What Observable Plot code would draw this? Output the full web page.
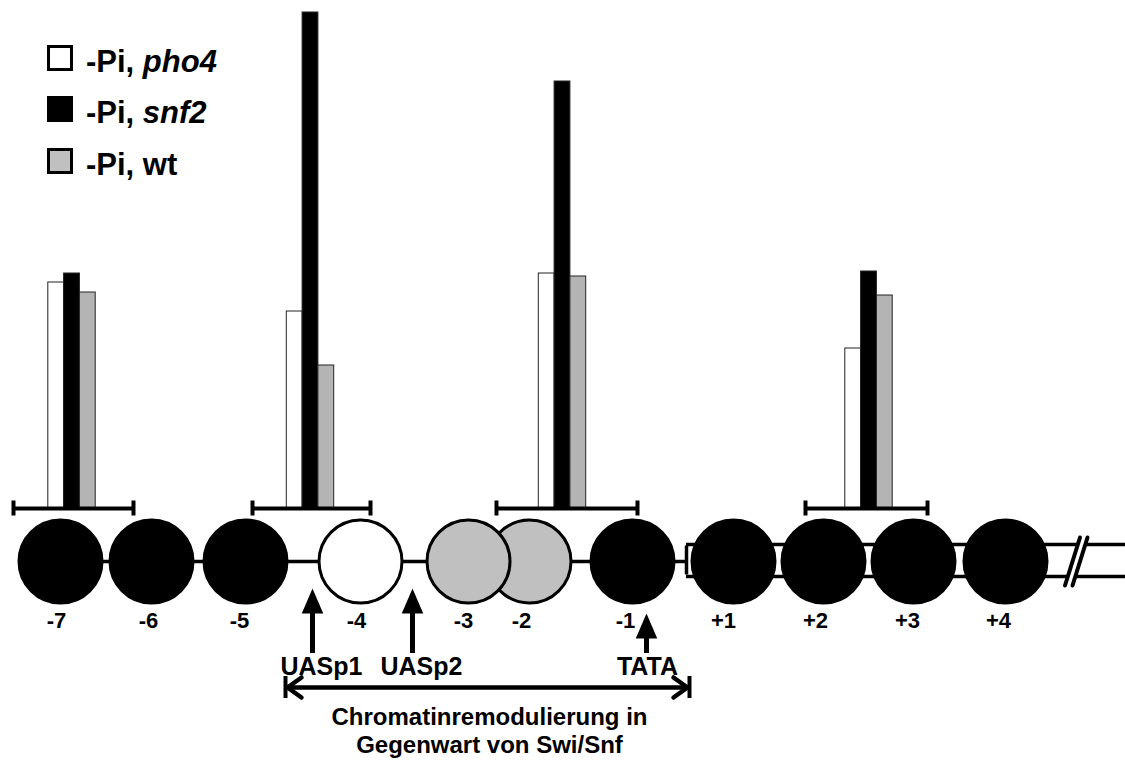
<!DOCTYPE html>
<html>
<head>
<meta charset="utf-8">
<script src="https://cdn.jsdelivr.net/npm/d3@7"></script>
<script src="https://cdn.jsdelivr.net/npm/@observablehq/plot@0.6"></script>
<style>
  html, body { margin: 0; padding: 0; background: #fff; }
  #wrap { position: relative; width: 1125px; height: 760px; overflow: hidden; }
  #legend { position: absolute; left: 0; top: 0; font-family: "Liberation Sans", Arial, sans-serif; font-weight: bold; font-size: 31px; line-height: 31px; color: #000; }
  .row { position: absolute; left: 0; white-space: nowrap; }
  .sw { position: absolute; left: 47px; width: 26px; height: 26px; box-sizing: border-box; border: 3px solid #000; }
  .lt { position: absolute; left: 86px; }
</style>
</head>
<body>
<div id="wrap"></div>
<script>
// ---------------- data ----------------
const seriesNames = ["-Pi, pho4", "-Pi, snf2", "-Pi, wt"];
const seriesItalic = ["pho4", "snf2", null];
const seriesFill = ["#ffffff", "#000000", "#b4b4b4"];
const legendFill = ["#ffffff", "#000000", "#c0c0c0"];

// probed regions (brackets) in diagram units along the promoter
const regionStart = [13, 252, 496, 805];
const regionEnd = [133, 370, 637, 927];
const regionBarCenter = [71.5, 310, 562, 868.5];

// accessibility values (%), one per region
const pho4Values = [45.2, 39.4, 47.0, 32.0];
const snf2Values = [47.0, 99.2, 85.4, 47.4];
const wtValues = [43.2, 28.6, 46.4, 42.6];

// nucleosomes
const nucNames = ["-7", "-6", "-5", "-4", "-3", "-2", "-1", "+1", "+2", "+3", "+4"];
const nucCenter = [60, 151, 245, 360, 468, 529, 632, 733, 823, 913, 1005];
const nucLabelX = [56, 148, 239, 356, 463, 521, 625, 723, 815, 907, 998];
const nucState = ["closed", "closed", "closed", "open", "partial", "partial", "closed", "closed", "closed", "closed", "closed"];

// promoter elements
const siteNames = ["UASp1", "UASp2", "TATA"];
const siteX = [312, 412, 646];
const siteLabelX = [321, 421, 647];
const siteHeadLevel = [-18.5, -18.5, -23.5];

// remodelled stretch
const remodelStart = 285;
const remodelEnd = 689;
const captionLines = ["Chromatinremodulierung in", "Gegenwart von Swi/Snf"];
const captionX = 489;

// DNA
const dnaStart = 60;
const dsStart = 686;
const dsEnd = 1125;
const breakX = 1075.5;

// ---------------- layout (y levels in chart units) ----------------
const Y_TRACK = -10.6, Y_DS_TOP = -7.2, Y_DS_BOT = -13.6;
const Y_NUCLABEL = -22.4, Y_SHAFT_END = -29, Y_SITELABEL = -31.6;
const Y_REMODEL = -35.8, Y_CAPTION = -44.3;

const FONT = "Liberation Sans, Arial, sans-serif";
const stateFill = {closed: "#000000", open: "#ffffff", partial: "#c0c0c0"};

const bars = [];
const vals = [pho4Values, snf2Values, wtValues];
const BW = 15.8;
regionBarCenter.forEach((c, i) => {
  vals.forEach((arr, k) => {
    bars.push({x1: c + (k - 1.5) * BW, x2: c + (k - 0.5) * BW, v: arr[i], s: k});
  });
});

const regions = regionStart.map((s, i) => ({x1: s, x2: regionEnd[i]}));
// -3 is drawn on top of -2
const nucs = nucNames.map((n, i) => ({name: n, x: nucCenter[i], lx: nucLabelX[i], state: nucState[i], order: n === "-3" ? 5.5 : i}))
  .sort((a, b) => a.order - b.order);
const sites = siteNames.map((n, i) => ({name: n, x: siteX[i], lx: siteLabelX[i], head: siteHeadLevel[i]}));

const arrowHead = {
  draw(ctx, size) {
    const r = Math.sqrt(size / Math.PI);
    ctx.moveTo(0, -r);
    ctx.lineTo(0.86 * r, r);
    ctx.lineTo(-0.86 * r, r);
    ctx.closePath();
  }
};

const chevL = [
  {x: remodelStart + 16, y: Y_REMODEL + 2.0}, {x: remodelStart + 2, y: Y_REMODEL}, {x: remodelStart + 16, y: Y_REMODEL - 2.0}
];
const chevR = [
  {x: remodelEnd - 16, y: Y_REMODEL + 2.0}, {x: remodelEnd - 2, y: Y_REMODEL}, {x: remodelEnd - 16, y: Y_REMODEL - 2.0}
];
const breakLine = (dx) => [{x: breakX + 4 + dx, y: Y_TRACK + 4.8}, {x: breakX - 11 + dx, y: Y_TRACK - 4.8}];

const chart = Plot.plot({
  width: 1125,
  height: 760,
  margin: 0,
  x: {domain: [0, 1125], axis: null},
  y: {domain: [-50.4, 101.6], axis: null},
  style: {background: "#fff"},
  marks: [
    // DNA single strand line
    Plot.ruleY([Y_TRACK], {x1: dnaStart, x2: dsStart, stroke: "#000", strokeWidth: 3.5}),
    // double strand box
    Plot.ruleY([Y_DS_TOP, Y_DS_BOT], {x1: dsStart, x2: dsEnd, stroke: "#000", strokeWidth: 3.5}),
    Plot.ruleX([dsStart], {y1: Y_DS_TOP - 0.3, y2: Y_DS_BOT + 0.3, stroke: "#000", strokeWidth: 3.5}),
    // break
    Plot.line(breakLine(3.7), {x: "x", y: "y", stroke: "#fff", strokeWidth: 9}),
    Plot.line(breakLine(0), {x: "x", y: "y", stroke: "#000", strokeWidth: 4}),
    Plot.line(breakLine(7.5), {x: "x", y: "y", stroke: "#000", strokeWidth: 4}),
    // nucleosomes
    Plot.dot(nucs, {x: "x", y: Y_TRACK, r: 41.5, fill: d => stateFill[d.state], stroke: "#000", strokeWidth: 3}),
    Plot.text(nucs, {x: "lx", y: Y_NUCLABEL, text: "name", fontSize: 22, fontWeight: "bold", fontFamily: FONT, fill: "#000"}),
    // bars
    Plot.rectY(bars, {x1: "x1", x2: "x2", y1: 0, y2: "v", fill: d => seriesFill[d.s], stroke: "#222", strokeWidth: 1}),
    // brackets
    Plot.ruleY(regions, {x1: "x1", x2: "x2", y: 0, stroke: "#000", strokeWidth: 4}),
    Plot.ruleX(regions, {x: "x1", y1: -1.5, y2: 1.5, stroke: "#000", strokeWidth: 4}),
    Plot.ruleX(regions, {x: "x2", y1: -1.5, y2: 1.5, stroke: "#000", strokeWidth: 4}),
    // promoter element arrows
    Plot.ruleX(sites, {x: "x", y1: "head", y2: Y_SHAFT_END, stroke: "#000", strokeWidth: 5}),
    Plot.dot(sites, {x: "x", y: "head", r: 12.5, symbol: arrowHead, fill: "#000", stroke: "none"}),
    Plot.text(sites, {x: "lx", y: Y_SITELABEL, text: "name", fontSize: 25, fontWeight: "bold", fontFamily: FONT, fill: "#000"}),
    // remodelling double arrow
    Plot.ruleY([Y_REMODEL], {x1: remodelStart, x2: remodelEnd, stroke: "#000", strokeWidth: 4.5}),
    Plot.line(chevL, {x: "x", y: "y", stroke: "#000", strokeWidth: 4.5}),
    Plot.line(chevR, {x: "x", y: "y", stroke: "#000", strokeWidth: 4.5}),
    Plot.ruleX([remodelStart, remodelEnd], {y1: Y_REMODEL - 2.2, y2: Y_REMODEL + 2.2, stroke: "#000", strokeWidth: 4}),
    Plot.text([captionLines.join("\n")], {x: captionX, y: Y_CAPTION, text: d => d, lineHeight: 1.18, fontSize: 24, fontWeight: "bold", fontFamily: FONT, fill: "#000"})
  ]
});

const wrap = document.getElementById("wrap");
wrap.appendChild(chart);

// legend (HTML, overlaid at top-left)
const legend = document.createElement("div");
legend.id = "legend";
const rowTops = [46, 97, 149];
seriesNames.forEach((name, i) => {
  const row = document.createElement("div");
  row.className = "row";
  row.style.top = rowTops[i] + "px";
  const sw = document.createElement("div");
  sw.className = "sw";
  sw.style.top = "-1px";
  sw.style.background = legendFill[i];
  const lt = document.createElement("div");
  lt.className = "lt";
  const it = seriesItalic[i];
  if (it) {
    const base = name.slice(0, name.length - it.length);
    lt.appendChild(document.createTextNode(base));
    const em = document.createElement("span");
    em.style.fontStyle = "italic";
    em.textContent = it;
    lt.appendChild(em);
  } else {
    lt.textContent = name;
  }
  row.appendChild(sw);
  row.appendChild(lt);
  legend.appendChild(row);
});
wrap.appendChild(legend);
</script>
</body>
</html>
